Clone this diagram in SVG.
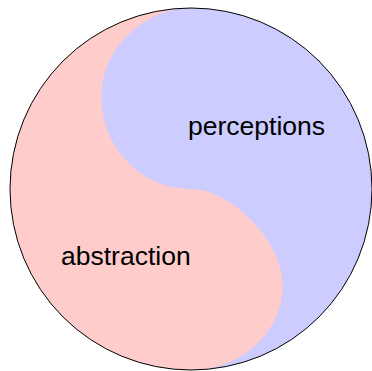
<svg xmlns="http://www.w3.org/2000/svg" width="372" height="371" viewBox="0 0 372 371">
  <style>
    .lbl { font-family: "Liberation Sans", Arial, sans-serif; font-size: 26.5px; fill: #000; }
  </style>
  <defs>
    <clipPath id="big">
      <circle cx="191" cy="189" r="181"/>
    </clipPath>
  </defs>
  <rect width="372" height="371" fill="#ffffff"/>
  <g id="yinyang" clip-path="url(#big)">
    <rect x="0" y="0" width="372" height="371" fill="#ccccff"/>
    <path d="M191,-20 L191,8 C148,8 101.5,45 101.5,97 C101.5,147.8 141.6,189 191,189 C230,189 282.7,240 282.7,285 C282.7,332 241.6,370 191,370 L191,400 L-20,400 L-20,-20 Z" fill="#ffcccc"/>
  </g>
  <circle id="outline" cx="191" cy="189" r="181" fill="none" stroke="#000" stroke-width="1"/>
  <g id="perceptions">
    <text class="lbl" x="188" y="135">perceptions</text>
  </g>
  <g id="abstraction">
    <text class="lbl" x="61" y="265">abstraction</text>
  </g>
  <g id="connectors"/>
</svg>
